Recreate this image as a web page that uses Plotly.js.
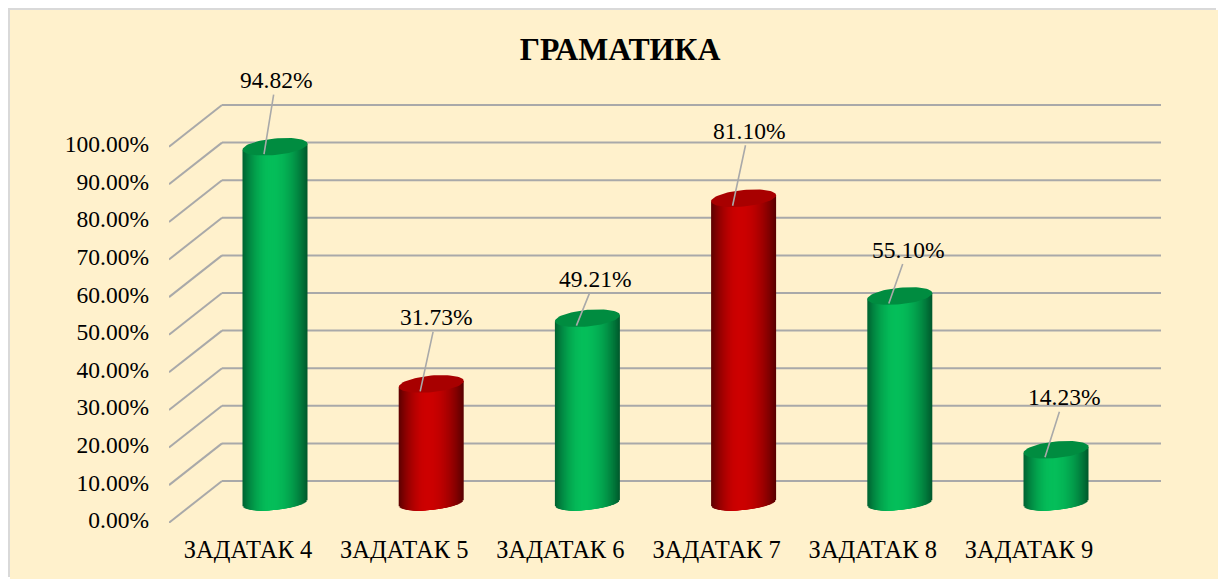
<!DOCTYPE html>
<html>
<head>
<meta charset="utf-8">
<script src="https://cdn.plot.ly/plotly-3.0.1.min.js"></script>
<style>
html,body{margin:0;padding:0;background:#fff;overflow:hidden}
#chart{position:absolute;left:10px;top:10px;width:1208px;height:569px;box-shadow:-2px -2px 0 #d9d9d9}
</style>
</head>
<body>
<div id="chart"></div>
<script>
const categories = ['ЗАДАТАК 4','ЗАДАТАК 5','ЗАДАТАК 6','ЗАДАТАК 7','ЗАДАТАК 8','ЗАДАТАК 9'];
const values = [94.82, 31.73, 49.21, 81.10, 55.10, 14.23];
const barFamily = ['green','red','green','red','green','green'];
const axisTicks = [0,10,20,30,40,50,60,70,80,90,100];
const axisLabels = ['0.00%','10.00%','20.00%','30.00%','40.00%','50.00%','60.00%','70.00%','80.00%','90.00%','100.00%'];
const valueLabels = ['94.82%','31.73%','49.21%','81.10%','55.10%','14.23%'];
// leader-line geometry in pixels: label offset from the point on the bar top
const labelOffsetX = [12, 16, 19, 16, 19, 19];
const labelOffsetY = [-74, -74, -47, -75, -54, -60];

const FONT = '"Liberation Serif","Times New Roman",serif';
const pxPerCat = 156.2, pxPerUnit = 3.76;
const wallX = -53 / pxPerCat, depthY = 39 / pxPerUnit;   // back wall offset
const frontDrop = 2.7 / pxPerUnit;                       // front end of the side wall lines
const xMin = -106 / pxPerCat, xMax = 886 / pxPerCat;
const barBase = 16.8 / pxPerUnit;                        // floor position of the cylinders
const halfW = 32.5 / pxPerCat;
const ellB = 8.3 / pxPerUnit, ellS = 3 / pxPerUnit;      // top ellipse half height and tilt
const floorB = 6.8 / pxPerUnit;                          // bottom curve half height

const palettes = {
  green: {edgeL:[0,100,50], mid:[5,190,90], edgeR:[0,90,45], top:'#008C40'},
  red:   {edgeL:[95,0,0],  mid:[205,0,0], edgeR:[90,0,0],  top:'#A80000'}
};
function shade(p, t){
  const u = (t + 0.1) / (t < -0.1 ? -0.9 : 1.1);
  const a = Math.pow(Math.abs(u), 2.0);
  const e = t < -0.1 ? p.edgeL : p.edgeR;
  return 'rgb(' + [0,1,2].map(i => Math.round(p.mid[i] + (e[i]-p.mid[i])*a)).join(',') + ')';
}

// cylinder bodies: one bar trace; slices painted from the rim towards the lowest point
const N = 66, pivot = -0.4, sx = [], sy = [], sb = [], sw = [], sc = [];
values.forEach((v, i) => {
  const p = palettes[barFamily[i]];
  const ts = [];
  for (let k = 0; k <= N; k++) ts.push(-1 + 2 * k / N);
  ts.sort((a, b) => Math.abs(b - pivot) - Math.abs(a - pivot));
  ts.forEach(t => {
    const low = floorB * Math.sqrt(Math.max(0, 1 - t*t)) - ellS * t;
    const a = Math.min(t, pivot), b = Math.max(t, pivot);
    sx.push(i + (a + b) / 2 * halfW);
    sw.push(Math.max(b - a, 2 / N) * halfW);
    sb.push(barBase - low);
    sy.push(v + low + ellS * t);
    sc.push(shade(p, t));
  });
});
const bodies = {type:'bar', x:sx, y:sy, base:sb, width:sw,
  marker:{color:sc, opacity:1, line:{width:0}}, hoverinfo:'skip', showlegend:false};

// cylinder tops
const tops = values.map((v, i) => {
  const xs = [], ys = [];
  for (let a = 0; a <= 72; a++) {
    const th = a / 72 * 2 * Math.PI, t = Math.cos(th);
    xs.push(i + t * halfW);
    ys.push(barBase + v + ellB * Math.sin(th) + ellS * t);
  }
  return {type:'scatter', mode:'lines', x:xs, y:ys, fill:'toself',
    fillcolor:palettes[barFamily[i]].top, line:{width:0, color:palettes[barFamily[i]].top},
    hoverinfo:'skip', showlegend:false, cliponaxis:false};
});

// back wall grid and side wall diagonals
const gridStyle = {color:'#A9A9A9', width:2};
const shapes = [];
axisTicks.forEach(v => {
  shapes.push({type:'line', layer:'below', xref:'x', yref:'y',
    x0:xMin - wallX, x1:xMax, y0:v + depthY, y1:v + depthY, line:gridStyle});
  shapes.push({type:'line', layer:'below', xref:'x', yref:'y',
    x0:xMin, x1:xMin - wallX, y0:v - frontDrop, y1:v + depthY, line:gridStyle});
});

// data labels with leader lines
const annotations = values.map((v, i) => ({
  x: i - 11 / pxPerCat,
  y: barBase + v - 7.5 / pxPerUnit,
  xref:'x', yref:'y', axref:'pixel', ayref:'pixel',
  ax: labelOffsetX[i], ay: labelOffsetY[i],
  text: valueLabels[i], showarrow:true, arrowhead:0, arrowwidth:1.6, arrowcolor:'#A9A9A9',
  standoff:0, startstandoff:0,
  font:{family:FONT, size:23.5, color:'#000'}
}));

const layout = {
  width:1208, height:569,
  margin:{l:159, r:57, t:90, b:56, pad:0},
  paper_bgcolor:'#FFF1CC', plot_bgcolor:'rgba(0,0,0,0)',
  barmode:'overlay', showlegend:false,
  title:{text:'<b>ГРАМАТИКА</b>', x:610/1208, xanchor:'center', y:1-39/569, yanchor:'middle',
    font:{family:FONT, size:31.8, color:'#000'}},
  xaxis:{range:[xMin, xMax], showgrid:false, zeroline:false, showline:false, ticks:'',
    tickmode:'array', tickvals:categories.map((c, i) => i - 27 / pxPerCat), ticktext:categories,
    ticklabelstandoff:9, tickangle:0, tickfont:{family:FONT, size:24.5, color:'#000'}},
  yaxis:{range:[-3 / pxPerUnit, 420 / pxPerUnit], showgrid:false, zeroline:false, showline:false, ticks:'',
    tickmode:'array', tickvals:axisTicks, ticktext:axisLabels,
    ticklabelstandoff:19, tickfont:{family:FONT, size:23.5, color:'#000'}},
  shapes, annotations
};
Plotly.newPlot('chart', [bodies].concat(tops), layout, {displayModeBar:false, staticPlot:true});
</script>
</body>
</html>
